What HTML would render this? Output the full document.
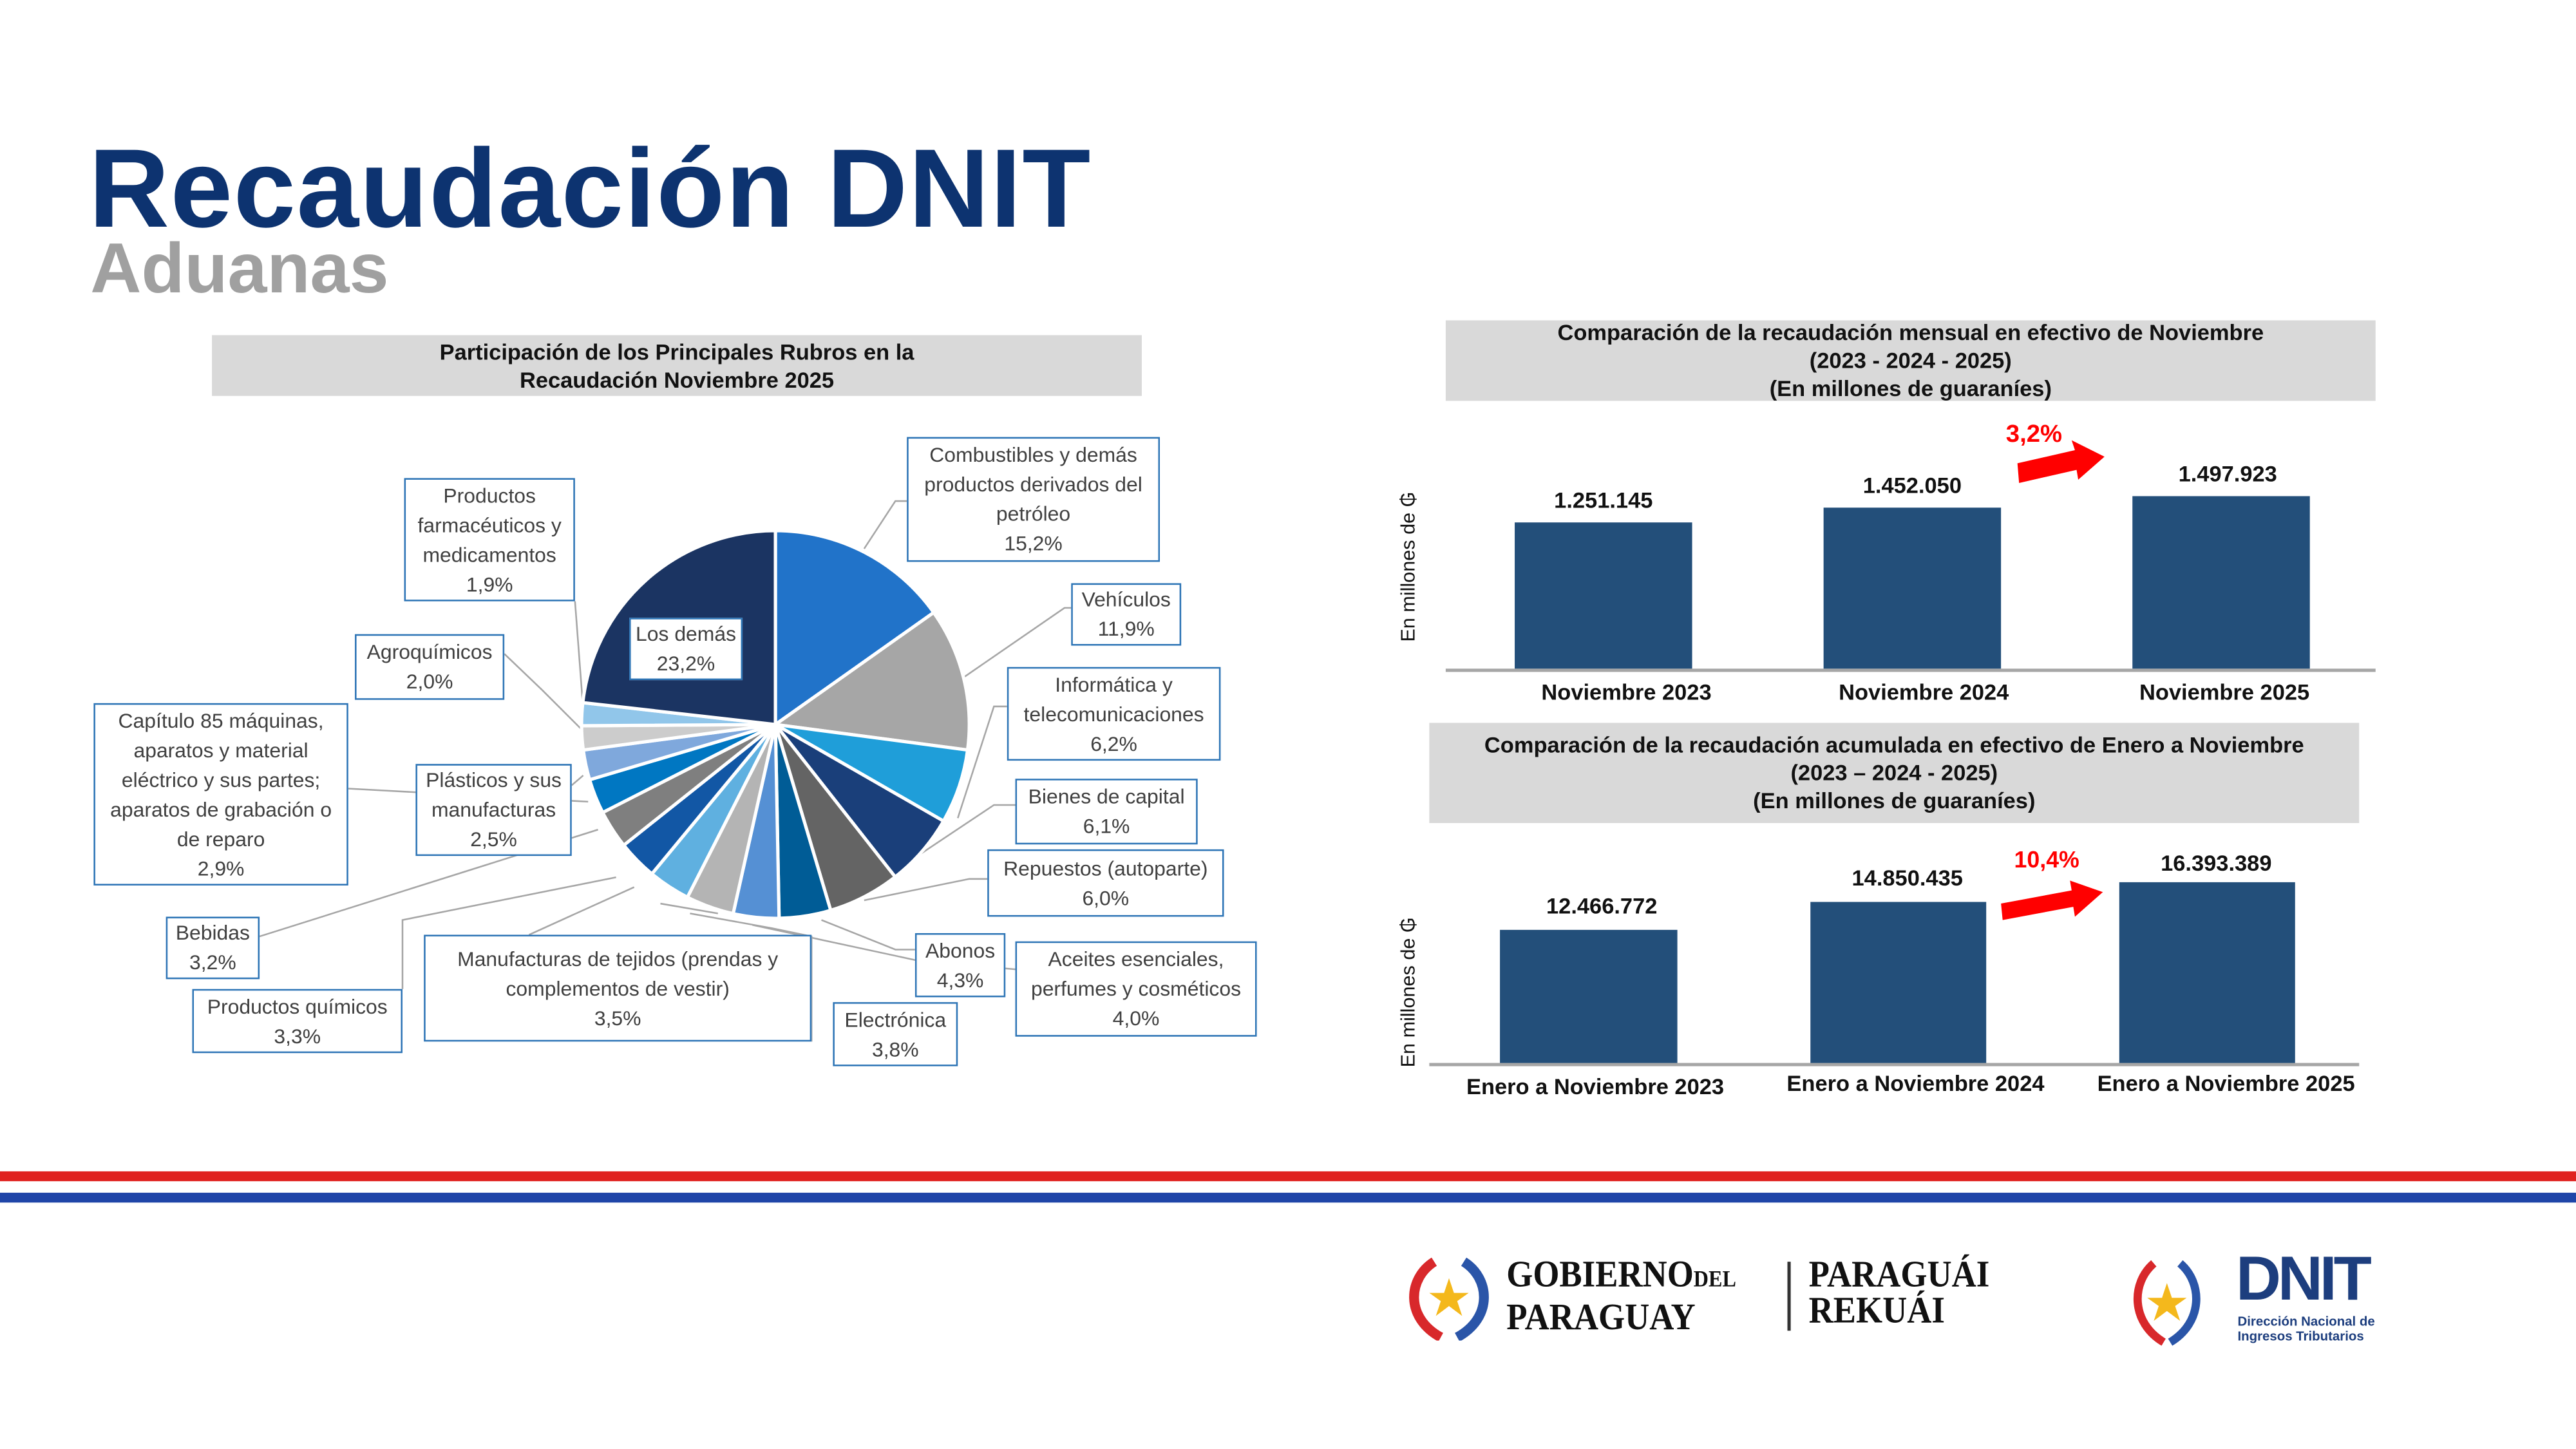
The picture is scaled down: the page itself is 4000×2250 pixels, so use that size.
<!DOCTYPE html>
<html><head><meta charset="utf-8">
<style>
html,body{margin:0;padding:0;background:#fff;width:4000px;height:2250px;overflow:hidden}
#w{position:absolute;left:0;top:0;width:1568px;height:882px;transform:scale(2.55102);transform-origin:0 0;font-family:"Liberation Sans",sans-serif}
.a{position:absolute}
.hdr{position:absolute;background:#d9d9d9;font-weight:bold;font-size:13.5px;line-height:17px;text-align:center;color:#111;display:flex;align-items:center;justify-content:center}
.lb{position:absolute;border:1.4px solid #2e75b6;background:#fff;font-size:12.5px;line-height:18px;text-align:center;color:#404040;box-sizing:border-box;display:flex;align-items:center;justify-content:center}
.bar{position:absolute;background:#234f7a}
.v{position:absolute;font-weight:bold;font-size:13.5px;color:#111;text-align:center;width:120px}
.x{position:absolute;font-weight:bold;font-size:13.5px;color:#111;text-align:center;width:180px}
</style></head><body><div id="w">
<div class="a" style="left:54px;top:76px;font-size:68px;font-weight:bold;color:#0d3370;letter-spacing:0.6px">Recaudación DNIT</div>
<div class="a" style="left:55px;top:140px;font-size:43px;font-weight:bold;color:#a0a0a0">Aduanas</div>

<div class="hdr" style="left:129px;top:204px;width:566px;height:37px">Participación de los Principales Rubros en la<br>Recaudación Noviembre 2025</div>

<svg class="a" style="left:0;top:0" width="1568" height="882" id="pie">
<g stroke="#a6a6a6" stroke-width="1" fill="none">
<path d="M526,334 L545,305 L552,305"/>
<path d="M587,412 L648,370 L652,370"/>
<path d="M583,498 L605,430 L613,430"/>
<path d="M560,520 L605,490 L618,490"/>
<path d="M526,548 L590,535 L601,535"/>
<path d="M500,560 L545,578 L557,578"/>
<path d="M458,563 L560,585 L618,590"/>
<path d="M420,556 L470,565 L494,570 L494,634"/>
<path d="M402,550 L437,556"/>
<path d="M386,540 L322,569"/>
<path d="M375,534 L245,560 L245,602"/>
<path d="M364,505 L158,570"/>
<path d="M358,488 L212,480"/>
<path d="M355,472 L348,478"/>
<path d="M356,446 L330,420 L307,398"/>
<path d="M355,432 L350,366"/>
</g>
</svg>

<div class="lb" style="left:552px;top:266px;width:154px;height:76px">Combustibles y demás<br>productos derivados del<br>petróleo<br>15,2%</div>
<div class="lb" style="left:652px;top:355px;width:67px;height:38px">Vehículos<br>11,9%</div>
<div class="lb" style="left:613px;top:406px;width:130px;height:57px">Informática y<br>telecomunicaciones<br>6,2%</div>
<div class="lb" style="left:618px;top:474px;width:111px;height:40px">Bienes de capital<br>6,1%</div>
<div class="lb" style="left:601px;top:517px;width:144px;height:41px">Repuestos (autoparte)<br>6,0%</div>
<div class="lb" style="left:557px;top:568px;width:55px;height:39px">Abonos<br>4,3%</div>
<div class="lb" style="left:618px;top:573px;width:147px;height:58px">Aceites esenciales,<br>perfumes y cosméticos<br>4,0%</div>
<div class="lb" style="left:507px;top:610px;width:76px;height:39px">Electrónica<br>3,8%</div>
<div class="lb" style="left:258px;top:569px;width:236px;height:65px">Manufacturas de tejidos (prendas y<br>complementos de vestir)<br>3,5%</div>
<div class="lb" style="left:117px;top:602px;width:128px;height:39px">Productos químicos<br>3,3%</div>
<div class="lb" style="left:101px;top:558px;width:57px;height:38px">Bebidas<br>3,2%</div>
<div class="lb" style="left:57px;top:428px;width:155px;height:111px">Capítulo 85 máquinas,<br>aparatos y material<br>eléctrico y sus partes;<br>aparatos de grabación o<br>de reparo<br>2,9%</div>
<div class="lb" style="left:253px;top:465px;width:95px;height:56px">Plásticos y sus<br>manufacturas<br>2,5%</div>
<div class="lb" style="left:216px;top:386px;width:91px;height:40px">Agroquímicos<br>2,0%</div>
<div class="lb" style="left:246px;top:291px;width:104px;height:75px">Productos<br>farmacéuticos y<br>medicamentos<br>1,9%</div>
<div class="lb" style="left:383px;top:376px;width:69px;height:38px">Los demás<br>23,2%</div>

<div class="hdr" style="left:880px;top:195px;width:566px;height:49px">Comparación de la recaudación mensual en efectivo de Noviembre<br>(2023 - 2024 - 2025)<br>(En millones de guaraníes)</div>
<div class="a" style="left:857px;top:345px;transform:translate(-50%,-50%) rotate(-90deg);font-size:12px;white-space:nowrap;color:#111">En millones de ₲</div>
<div class="a" style="left:880px;top:407px;width:566px;height:2px;background:#a6a6a6"></div>
<div class="bar" style="left:922px;top:318px;width:108px;height:89px"></div>
<div class="bar" style="left:1110px;top:309px;width:108px;height:98px"></div>
<div class="bar" style="left:1298px;top:302px;width:108px;height:105px"></div>
<div class="v" style="left:916px;top:297px">1.251.145</div>
<div class="v" style="left:1104px;top:288px">1.452.050</div>
<div class="v" style="left:1296px;top:281px">1.497.923</div>
<div class="x" style="left:900px;top:414px">Noviembre 2023</div>
<div class="x" style="left:1081px;top:414px">Noviembre 2024</div>
<div class="x" style="left:1264px;top:414px">Noviembre 2025</div>
<div class="a" style="left:1221px;top:256px;color:#f00;font-weight:bold;font-size:15px">3,2%</div>
<svg class="a" style="left:1225px;top:264px" width="60" height="34"><path d="M3,18 L38,10 L36,4 L56,14 L40,28 L39,22 L4,30Z" fill="#f00"/></svg>

<div class="hdr" style="left:870px;top:440px;width:566px;height:61px">Comparación de la recaudación acumulada en efectivo de Enero a Noviembre<br>(2023 – 2024 - 2025)<br>(En millones de guaraníes)</div>
<div class="a" style="left:857px;top:604px;transform:translate(-50%,-50%) rotate(-90deg);font-size:12px;white-space:nowrap;color:#111">En millones de ₲</div>
<div class="a" style="left:870px;top:647px;width:566px;height:2px;background:#a6a6a6"></div>
<div class="bar" style="left:913px;top:566px;width:108px;height:81px"></div>
<div class="bar" style="left:1102px;top:549px;width:107px;height:98px"></div>
<div class="bar" style="left:1290px;top:537px;width:107px;height:110px"></div>
<div class="v" style="left:915px;top:544px">12.466.772</div>
<div class="v" style="left:1101px;top:527px">14.850.435</div>
<div class="v" style="left:1289px;top:518px">16.393.389</div>
<div class="x" style="left:881px;top:654px">Enero a Noviembre 2023</div>
<div class="x" style="left:1076px;top:652px">Enero a Noviembre 2024</div>
<div class="x" style="left:1265px;top:652px">Enero a Noviembre 2025</div>
<div class="a" style="left:1226px;top:515px;color:#f00;font-weight:bold;font-size:14px">10,4%</div>
<svg class="a" style="left:1215px;top:532px" width="70" height="30"><path d="M3,18 L46,10 L45,4 L65,11 L48,26 L47,20 L4,28Z" fill="#f00"/></svg>

<div class="a" style="left:0;top:713px;width:1568px;height:6px;background:#e0211f"></div>
<div class="a" style="left:0;top:726px;width:1568px;height:6px;background:#1f45a8"></div>

<svg class="a" style="left:855px;top:764px" width="60" height="52">
<path d="M18,4 C2,14 0,38 22,50" stroke="#d8282b" stroke-width="6" fill="none"/>
<path d="M36,4 C52,14 54,38 32,50" stroke="#2a55a8" stroke-width="6" fill="none"/>
<polygon points="27,14 30,23 39,23 32,28 35,37 27,31 19,37 22,28 15,23 24,23" fill="#f4b81c"/></svg>
<div class="a" style="left:917px;top:765px;font-family:'Liberation Serif',serif;font-weight:bold;font-size:23px;line-height:22px;color:#111;transform:scaleX(0.9);transform-origin:0 0">GOBIERNO<span style="font-size:14px">DEL</span><br>PARAGUAY</div>
<div class="a" style="left:1088px;top:768px;width:2px;height:42px;background:#333"></div>
<div class="a" style="left:1101px;top:765px;font-family:'Liberation Serif',serif;font-weight:bold;font-size:23px;line-height:22px;color:#111;transform:scaleX(0.9);transform-origin:0 0">PARAGUÁI<br>REKUÁI</div>

<svg class="a" style="left:1297px;top:765px" width="48" height="56">
<path d="M14,4 C0,16 0,40 20,52" stroke="#d8282b" stroke-width="5" fill="none"/>
<path d="M30,4 C44,16 44,40 24,52" stroke="#2a55a8" stroke-width="5" fill="none"/>
<polygon points="22,16 25,25 34,25 27,30 30,39 22,33 14,39 17,30 10,25 19,25" fill="#f4b81c"/></svg>
<div class="a" style="left:1361px;top:760px;font-weight:bold;font-size:38px;line-height:38px;color:#1d3e7e;letter-spacing:-2px">DNIT</div>
<div class="a" style="left:1362px;top:800px;font-size:8px;line-height:9px;color:#1d3e7e;font-weight:bold">Dirección Nacional de<br>Ingresos Tributarios</div>
</div>
<script>
(function(){
var d=[[15.2,'#2173c9'],[11.9,'#a6a6a6'],[6.2,'#1f9ed9'],[6.1,'#1a3f7a'],[6.0,'#646464'],[4.3,'#005c96'],[3.8,'#5590d4'],[4.0,'#b4b4b4'],[3.5,'#5fb0e0'],[3.3,'#1257a5'],[3.2,'#7f7f7f'],[2.9,'#0077c2'],[2.5,'#7fa8dc'],[2.0,'#cccccc'],[1.9,'#91c6ea'],[23.2,'#1b3462']];
var cx=472,cy=441,rx=118,ry=118,a=0,s='';
d.forEach(function(e){var a1=a+e[0]/100*2*Math.PI;
var x0=cx+rx*Math.sin(a),y0=cy-ry*Math.cos(a),x1=cx+rx*Math.sin(a1),y1=cy-ry*Math.cos(a1);
s+='<path d="M'+cx+','+cy+' L'+x0+','+y0+' A'+rx+','+ry+' 0 '+((a1-a)>Math.PI?1:0)+',1 '+x1+','+y1+'Z" fill="'+e[1]+'" stroke="#fff" stroke-width="2"/>';a=a1;});
document.getElementById('pie').insertAdjacentHTML('beforeend',s);
})();
</script>
</body></html>
